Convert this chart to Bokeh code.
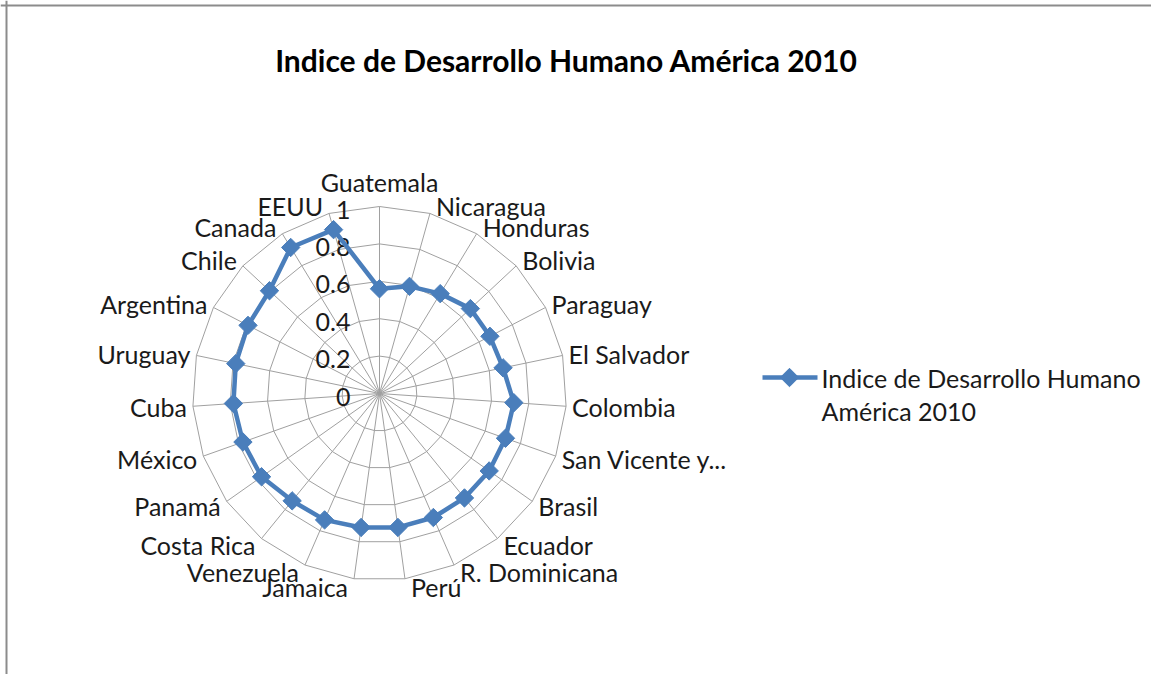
import math

from bokeh.core.properties import value
from bokeh.embed import file_html
from bokeh.models import ColumnDataSource, Range1d, Span
from bokeh.plotting import figure
from bokeh.resources import INLINE

# --- data -------------------------------------------------------------
title_text = "Indice de Desarrollo Humano América 2010"
series_name = "Indice de Desarrollo Humano América 2010"
countries = [
    "Guatemala", "Nicaragua", "Honduras", "Bolivia", "Paraguay", "El Salvador",
    "Colombia", "San Vicente y...", "Brasil", "Ecuador", "R. Dominicana", "Perú",
    "Jamaica", "Venezuela", "Costa Rica", "Panamá", "México", "Cuba", "Uruguay",
    "Argentina", "Chile", "Canada", "EEUU",
]
idh = [
    0.560, 0.595, 0.625, 0.665, 0.665, 0.675,
    0.720, 0.715, 0.718, 0.720, 0.723, 0.723,
    0.723, 0.737, 0.740, 0.772, 0.775, 0.783, 0.785,
    0.792, 0.805, 0.914, 0.910,
]
ring_levels = [0.2, 0.4, 0.6, 0.8, 1.0]
tick_values = [0, 0.2, 0.4, 0.6, 0.8, 1]
tick_labels = ["0", "0.2", "0.4", "0.6", "0.8", "1"]

# --- layout / style ---------------------------------------------------
W, H = 1151, 674
CX, CY = 379, 393          # radar centre on the canvas (px)
RADIUS_PX = 187            # pixels for an index value of 1
PX = 1.0 / RADIUS_PX       # one pixel in data units
FONT = "Lato"
LABEL_SIZE = "25px"
TITLE_SIZE = "30px"
BLUE = "#4a7ebb"
GRID = "#a0a0a0"
TEXT = "#1a1a1a"

n = len(countries)
angles = [2 * math.pi * i / n for i in range(n)]  # clockwise from the top


def to_xy(r, a):
    return r * math.sin(a), r * math.cos(a)


p = figure(
    width=W, height=H,
    x_range=Range1d(-CX * PX, (W - CX) * PX),
    y_range=Range1d(-(H - CY) * PX, CY * PX),
    output_backend="svg", toolbar_location=None,
    min_border=0, min_border_left=0, min_border_right=0,
    min_border_top=0, min_border_bottom=0,
    background_fill_color="white", border_fill_color="white",
    outline_line_color=None,
)
p.axis.visible = False
p.grid.visible = False

# chart-area frame (top and left edges visible)
p.add_layout(Span(location=(CY - 5) * PX, dimension="width",
                  line_color="#8c8c8c", line_width=2))
p.add_layout(Span(location=(6 - CX) * PX, dimension="height",
                  line_color="#8c8c8c", line_width=2))

# polygonal rings
for lv in ring_levels:
    pts = [to_xy(lv, a) for a in angles] + [to_xy(lv, angles[0])]
    p.line([q[0] for q in pts], [q[1] for q in pts], line_color=GRID, line_width=1)

# spokes
outer = [to_xy(max(ring_levels), a) for a in angles]
p.segment(x0=[0] * n, y0=[0] * n, x1=[q[0] for q in outer], y1=[q[1] for q in outer],
          line_color=GRID, line_width=1)

# value-axis labels, right-aligned just left of the top spoke
p.text(x=[-29 * PX] * len(tick_values), y=[v - 3 * PX for v in tick_values],
       text=tick_labels, text_align="right", text_baseline="middle",
       text_font=value(FONT), text_font_size=LABEL_SIZE, text_color=TEXT)

# category labels around the outer ring
groups = {"center": [], "left": [], "right": []}
for name, a in zip(countries, angles):
    s, c = math.sin(a), math.cos(a)
    if abs(s) < 0.05:
        groups["center"].append((0.0, 1.0 + 25 * PX, name))
    elif s > 0:
        groups["left"].append((s + 6 * PX, c + 8 * PX * c, name))
    else:
        groups["right"].append((s - 6 * PX, c + 8 * PX * c, name))
for align, rows in groups.items():
    if not rows:
        continue
    src = ColumnDataSource(dict(x=[r[0] for r in rows], y=[r[1] for r in rows],
                                t=[r[2] for r in rows]))
    p.text(x="x", y="y", text="t", source=src, text_align=align,
           text_baseline="middle", text_font=value(FONT),
           text_font_size=LABEL_SIZE, text_color=TEXT)

# data series (closed polygon with diamond markers)
pts = [to_xy(v, a) for v, a in zip(idh, angles)]
xs = [q[0] for q in pts]
ys = [q[1] for q in pts]
p.line(xs + [xs[0]], ys + [ys[0]], line_color=BLUE, line_width=4.5,
       line_join="round")
p.scatter(xs, ys, marker="square", size=13, angle=math.pi / 4,
          fill_color=BLUE, line_color=BLUE)

# title
p.text(x=[(566 - CX) * PX], y=[(CY - 59) * PX], text=[title_text],
       text_align="center", text_baseline="middle", text_font=value(FONT),
       text_font_style="bold", text_font_size=TITLE_SIZE, text_color="black")

# legend
leg_y = (CY - 377) * PX
p.line([(762 - CX) * PX, (817 - CX) * PX], [leg_y, leg_y], line_color=BLUE,
       line_width=4.5)
p.scatter([(789 - CX) * PX], [leg_y], marker="square", size=13, angle=math.pi / 4,
          fill_color=BLUE, line_color=BLUE)
words = series_name.split(" ")
leg_lines = [" ".join(words[:4]), " ".join(words[4:])]
p.text(x=[(821 - CX) * PX] * 2, y=[leg_y, leg_y - 33 * PX], text=leg_lines,
       text_align="left", text_baseline="middle", text_font=value(FONT),
       text_font_size=LABEL_SIZE, text_color=TEXT)

open("out.html", "w").write(file_html(p, INLINE))
